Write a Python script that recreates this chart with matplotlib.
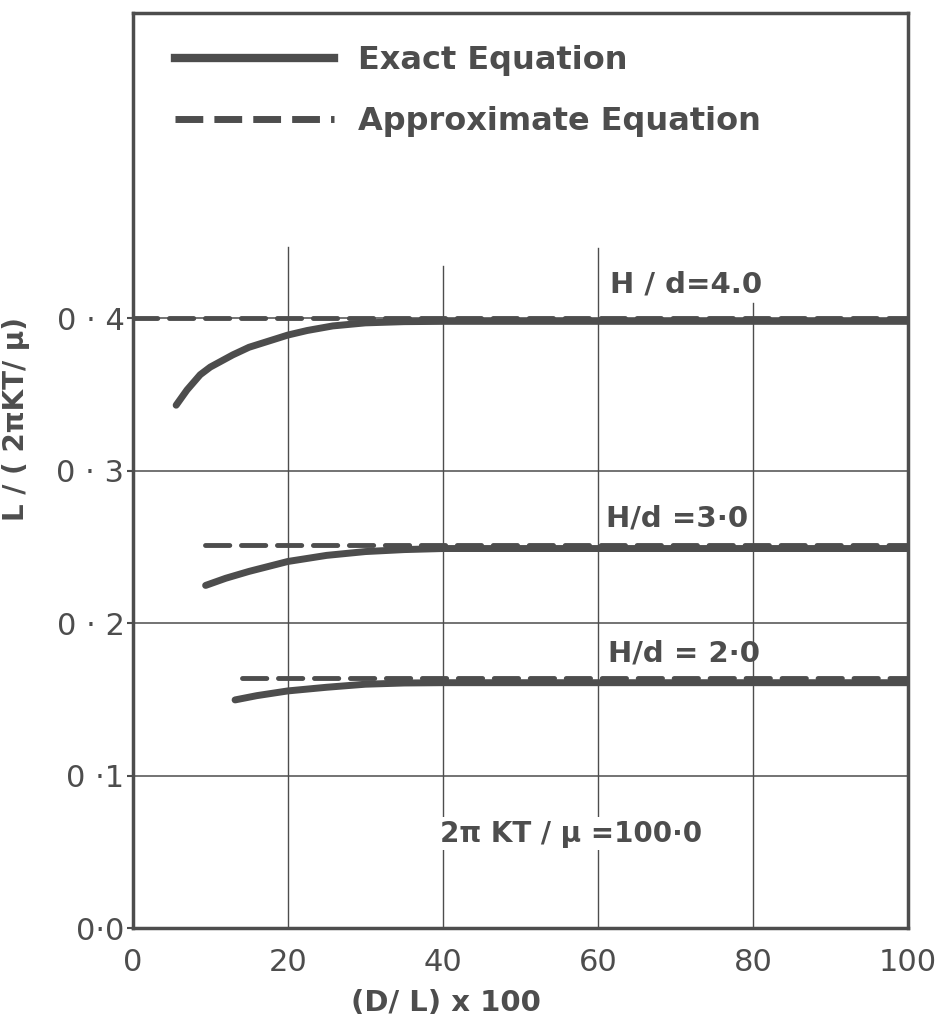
import matplotlib.pyplot as plt
from matplotlib.lines import Line2D

# data
exact_x4 = [5.6, 7.0, 8.7, 10.0, 12.9, 15.0, 17.5, 20.0, 22.5, 25.8, 30.0, 35.0, 40.0, 100.0]
exact_y4 = [0.343, 0.353, 0.363, 0.368, 0.376, 0.381, 0.385, 0.389, 0.392, 0.395, 0.397, 0.3978, 0.398, 0.398]

exact_x3 = [9.4, 12.0, 15.0, 20.0, 25.0, 30.0, 35.0, 40.0, 100.0]
exact_y3 = [0.2248, 0.2295, 0.234, 0.2405, 0.2445, 0.247, 0.2483, 0.249, 0.249]

exact_x2 = [13.2, 16.0, 20.0, 25.0, 30.0, 35.0, 40.0, 100.0]
exact_y2 = [0.1497, 0.1525, 0.1556, 0.158, 0.160, 0.1608, 0.161, 0.161]

approx_start = [0.0, 9.3, 14.1]
approx_val = [0.400, 0.2516, 0.1643]

xticks = [0, 20, 40, 60, 80, 100]
yticks = [0.0, 0.1, 0.2, 0.3, 0.4]
ytick_labels = ['0·0', '0 ·1', '0 · 2', '0 · 3', '0 · 4']

ink = '#4d4d4d'
plt.rcParams['font.family'] = ['DejaVu Sans']

fig = plt.figure(figsize=(9.48, 10.29), dpi=100)
ax = fig.add_axes([0.140, 0.098, 0.818, 0.889])
ax.set_xlim(0, 100)
ax.set_ylim(0, 0.6)

# grid: horizontal lines full width, vertical ones stop below the legend
for yv in yticks[1:]:
    ax.axhline(yv, color=ink, lw=1.1, zorder=1)
grid_tops = [0.447, 0.434, 0.446, 0.41]
for xv, top in zip(xticks[1:-1], grid_tops):
    ax.plot([xv, xv], [0, top], color=ink, lw=1.0, zorder=1)

exact = [(exact_x4, exact_y4), (exact_x3, exact_y3), (exact_x2, exact_y2)]
for (ex, ey) in exact:
    ax.plot(ex, ey, color=ink, lw=5, solid_capstyle='round', zorder=3)

for x0, v in zip(approx_start, approx_val):
    ax.plot([x0, 100], [v, v], color=ink, lw=3.5, dashes=(5, 2.4),
            dash_capstyle='round', zorder=4)

txt = dict(color=ink, fontsize=21, fontweight='bold')
ax.text(61.5, 0.413, 'H / d=4.0', ha='left', va='bottom', **txt)
ax.text(61.0, 0.2686, 'H/d =3·0', ha='left', va='center', **txt)
ax.text(61.3, 0.180, 'H/d = 2·0', ha='left', va='center', **txt)
ax.text(56.5, 0.062, '2π KT / μ =100·0', ha='center', va='center', fontsize=20,
        color=ink, fontweight='bold',
        bbox=dict(facecolor='white', edgecolor='none', pad=2), zorder=5)

handles = [Line2D([], [], color=ink, lw=6),
           Line2D([], [], color=ink, lw=5, dashes=(4, 1.6))]
leg = ax.legend(handles, ['Exact Equation', 'Approximate Equation'],
                loc='upper left', bbox_to_anchor=(0.017, 0.997), frameon=False,
                handlelength=5.0, handletextpad=0.75, labelspacing=0.95,
                prop=dict(size=23, weight='bold'))
for t in leg.get_texts():
    t.set_color(ink)

ax.set_xticks(xticks)
ax.set_xticklabels([str(v) for v in xticks])
ax.set_yticks(yticks)
ax.set_yticklabels(ytick_labels)
ax.tick_params(axis='both', colors=ink, labelsize=22, width=1.5, direction='out')
ax.tick_params(axis='y', length=4, pad=2)
ax.tick_params(axis='x', length=0, pad=14)

for s in ax.spines.values():
    s.set_color(ink)
    s.set_linewidth(2.5)

ax.set_xlabel('(D/ L) x 100', fontsize=21, color=ink, fontweight='bold')
ax.xaxis.set_label_coords(0.404, -0.066)
ax.set_ylabel('L / ( 2πKT/ μ)', fontsize=20, color=ink, fontweight='bold')
ax.yaxis.set_label_coords(-0.133, 0.557)

fig.savefig('out.png', dpi=100)
